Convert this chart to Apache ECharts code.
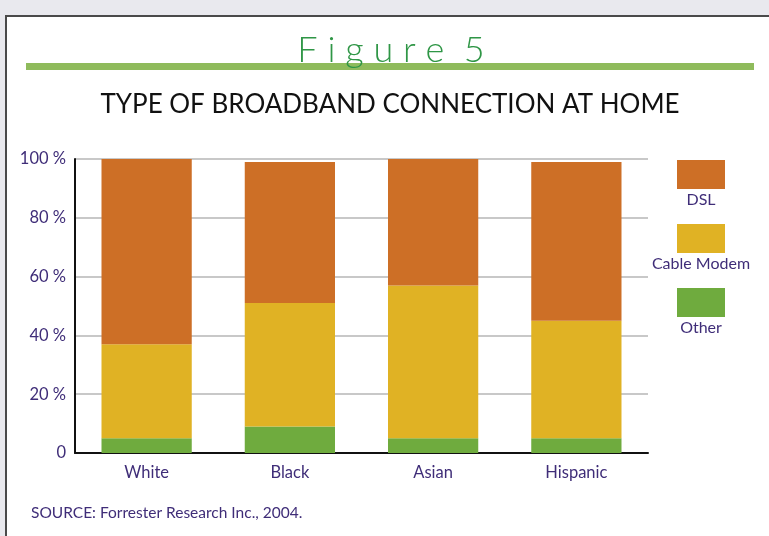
<!DOCTYPE html>
<html>
<head>
<meta charset="utf-8">
<script src="https://cdn.jsdelivr.net/npm/echarts@6/dist/echarts.min.js"></script>
<style>
  html, body { margin: 0; padding: 0; background: #e9e9ee; }
  #chart { width: 769px; height: 536px; }
</style>
</head>
<body>
<div id="chart"></div>
<script>
// groups along the x axis
var groups = ['White', 'Black', 'Asian', 'Hispanic'];
// stacked shares (%), bottom to top
var other = [5, 9, 5, 5];
var cableModem = [32, 42, 52, 40];
var dsl = [63, 48, 43, 54];
var seriesNames = ['Other', 'Cable Modem', 'DSL'];
var yTicks = [0, 20, 40, 60, 80, 100];

var colors = { 'DSL': '#cd6f26', 'Cable Modem': '#e0b224', 'Other': '#6fab3e' };
var ink = '#3f2d78';
var font = 'Lato';

var myChart = echarts.init(document.getElementById('chart'));

// legend drawn by hand: swatch with label under it
var legendOrder = ['DSL', 'Cable Modem', 'Other'];
var legendItems = [];
legendOrder.forEach(function (name, i) {
    var y = 160 + i * 64;
    legendItems.push({
        type: 'rect', shape: { x: 677, y: y, width: 48, height: 29 },
        style: { fill: colors[name] }
    });
    legendItems.push({
        type: 'text', x: 701, y: y + 32,
        style: { text: name, fill: ink, font: '16px ' + font, textAlign: 'center', textVerticalAlign: 'top' }
    });
});

var option = {
    backgroundColor: '#e9e9ee',
    animation: false,
    grid: { left: 75, right: 121, top: 159, bottom: 83 },
    xAxis: {
        type: 'category',
        data: groups,
        axisLine: { lineStyle: { color: '#111', width: 2 } },
        axisTick: { show: false },
        axisLabel: { color: ink, fontFamily: font, fontSize: 16.5, margin: 11 }
    },
    yAxis: {
        type: 'value',
        min: 0, max: 100, interval: 20,
        axisLine: { show: true, lineStyle: { color: '#111', width: 2 } },
        axisTick: { show: false },
        splitLine: { lineStyle: { color: '#c8c8c8', width: 2 } },
        axisLabel: {
            color: ink, fontFamily: font, fontSize: 16.5, margin: 9,
            customValues: yTicks,
            formatter: function (v) { return v === 0 ? '0' : v + ' %'; }
        }
    },
    graphic: [
        // page frame
        { type: 'rect', z: -10, shape: { x: 6, y: 16, width: 800, height: 560 },
          style: { fill: '#ffffff', stroke: '#4a4a4a', lineWidth: 2 } },
        // green rule under the figure number
        { type: 'rect', shape: { x: 26, y: 63, width: 728, height: 7 }, style: { fill: '#8fbb5c' } },
        { type: 'text', x: 391, y: 32, z: 10,
          style: { text: 'F i g u r e  5', fill: '#2f9646', font: '300 36px ' + font, textAlign: 'center' } },
        { type: 'text', x: 390, y: 92,
          style: { text: 'TYPE OF BROADBAND CONNECTION AT HOME', fill: '#111', font: '26px ' + font, textAlign: 'center' } },
        { type: 'text', x: 31, y: 505,
          style: { text: 'SOURCE: Forrester Research Inc., 2004.', fill: ink, font: '15.5px ' + font } }
    ].concat(legendItems),
    series: [
        { name: 'Other', type: 'bar', stack: 'a', barWidth: '63%', data: other, itemStyle: { color: colors['Other'] } },
        { name: 'Cable Modem', type: 'bar', stack: 'a', data: cableModem, itemStyle: { color: colors['Cable Modem'] } },
        { name: 'DSL', type: 'bar', stack: 'a', data: dsl, itemStyle: { color: colors['DSL'] } }
    ]
};
myChart.setOption(option);
</script>
</body>
</html>
